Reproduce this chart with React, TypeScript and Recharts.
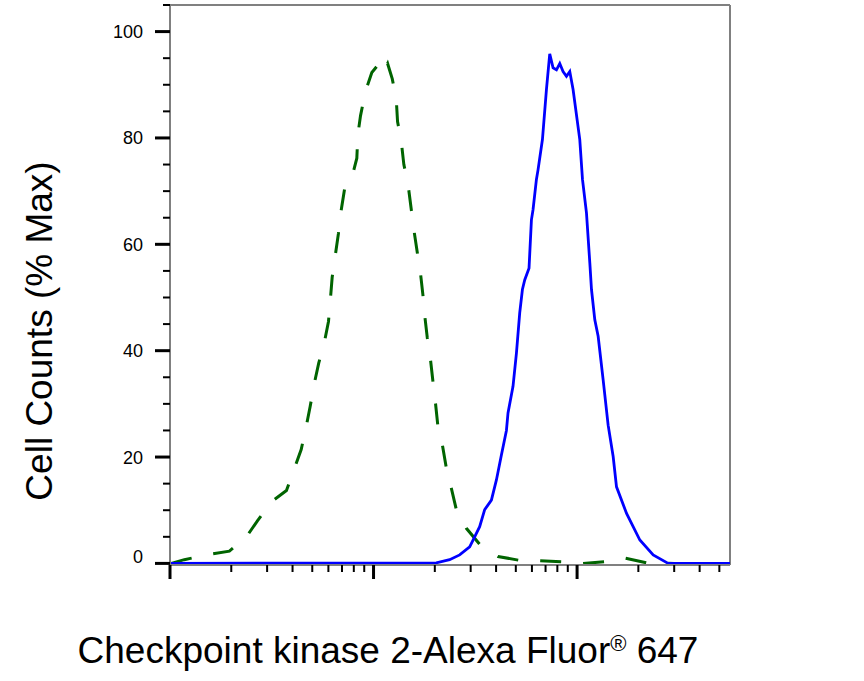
import React from 'react';
import { LineChart, Line, XAxis, YAxis, ReferenceLine, Label } from 'recharts';

// Isotype control (green dashed) — fluorescence intensity vs % max
const greenX = [1.015, 1.176, 1.561, 1.958, 2.373, 2.688, 3.149, 3.733, 4.088, 4.411, 4.667, 4.882, 5.127, 5.382, 5.741, 6.007, 6.144, 6.263, 6.502, 6.726, 6.935, 7.2, 7.822, 8.278, 8.372, 8.632, 9.103, 9.809, 10.7, 11.2, 11.72, 12.36, 12.93, 13.12, 13.68, 14.09, 14.75, 15.33, 15.73, 16.41, 16.97, 17.48, 17.82, 18.37, 19.01, 19.58, 20.12, 20.72, 21.78, 22.79, 24.12, 25.52, 28.58, 33.87, 40.87, 51.67, 65.55, 85.05, 106.7, 136.8, 171.6, 219.5, 255.2, 300];
const greenY = [0, 0.7, 1.7, 2.3, 5.0, 8.0, 11.6, 13.7, 17.9, 21.4, 25.7, 29.5, 34.0, 37.7, 41.7, 45.5, 49.9, 53.8, 58.2, 62.1, 66.4, 70.3, 72.5, 76.2, 80.6, 84.2, 88.6, 92.3, 94.1, 92.6, 94.0, 91.1, 87.3, 83.1, 79.4, 75.0, 71.5, 66.5, 63.1, 58.4, 54.9, 50.5, 46.8, 42.4, 38.6, 34.2, 30.4, 25.7, 22.3, 17.9, 14.1, 10.1, 6.6, 3.2, 1.3, 0.6, 0.5, 0.3, 0, 0.3, 1.0, 0.1, 0.1, 0];

// Checkpoint kinase 2 stained (blue solid)
const blueX = [1, 20.34, 23.65, 26.49, 29.67, 31.39, 33.22, 35.16, 37.94, 40.15, 42.48, 44.96, 45.78, 48.44, 50.34, 52.26, 53.88, 55.3, 58.06, 59.66, 60.75, 63.13, 64.29, 67.57, 70.7, 73.39, 76.21, 79.2, 82.21, 85.34, 88.69, 92.07, 95.57, 103.1, 106.3, 111.2, 115.5, 117.7, 122.2, 126.9, 134.3, 142.1, 150.4, 156.2, 175.0, 203.4, 236.5, 280.3, 564];
const blueY = [0, 0.1, 0.7, 1.6, 3.1, 5.0, 6.9, 10.1, 11.9, 15.7, 20.4, 25.0, 28.3, 33.3, 39.5, 47.1, 51.5, 53.3, 55.5, 64.6, 66.5, 72.2, 74.0, 79.7, 89.1, 95.8, 93.2, 92.8, 94.0, 92.5, 91.6, 92.5, 89.1, 79.7, 72.2, 65.9, 56.5, 51.5, 45.8, 42.7, 34.5, 26.0, 20.1, 14.4, 9.4, 4.4, 1.6, 0, 0];

const xTicks = [1, 2, 3, 4, 5, 6, 7, 8, 9, 10, 20, 30, 40, 50, 60, 70, 80, 90, 100, 200, 300, 400, 500];
const xMajor = [1, 10, 100];
const yTicks = [0, 5, 10, 15, 20, 25, 30, 35, 40, 45, 50, 55, 60, 65, 70, 75, 80, 85, 90, 95, 100, 105];

const xLabel = 'Checkpoint kinase 2-Alexa Fluor';
const xLabelSup = '®';
const xLabelEnd = ' 647';
const yLabel = 'Cell Counts (% Max)';

const greenData = greenX.map((x, i) => ({ x, y: greenY[i] }));
const blueData = blueX.map((x, i) => ({ x, y: blueY[i] }));

const FONT = '"Liberation Sans", Arial, Helvetica, sans-serif';

const XTick = (props: any) => {
  const { x, y, payload } = props;
  const major = xMajor.includes(payload.value);
  return (
    <line x1={x} x2={x} y1={y} y2={y + (major ? 14 : 7)} stroke="#000" strokeWidth={major ? 3 : 2} />
  );
};

const YTick = (props: any) => {
  const { x, y, payload } = props;
  const v = payload.value;
  const major = v % 20 === 0;
  return (
    <g>
      <line x1={x - (major ? 15 : 7)} x2={x} y1={y} y2={y} stroke="#000" strokeWidth={major ? 3 : 2} />
      {major && (
        <text x={x - 27} y={y + (v === 0 ? -6.6 : 0)} dy="0.36em" textAnchor="end" fontSize={18} fontFamily={FONT} fill="#000">
          {v}
        </text>
      )}
    </g>
  );
};

const XTitle = () => (
  <text x={388} y={663} textAnchor="middle" fontSize={37} fontFamily={FONT} fill="#000">
    {xLabel}
    <tspan fontSize={22} dy={-12}>{xLabelSup}</tspan>
    <tspan fontSize={37} dy={12}>{xLabelEnd}</tspan>
  </text>
);

const YTitle = () => (
  <text x={52} y={331} textAnchor="middle" fontSize={37} fontFamily={FONT} fill="#000" transform="rotate(-90, 52, 331)">
    {yLabel}
  </text>
);

export default function App() {
  return (
    <div style={{ position: 'absolute', left: 0, top: 0, width: 864, height: 681, background: '#fff' }}>
      <LineChart width={864} height={681} margin={{ top: 5, right: 134, bottom: 0, left: 0 }}>
        <XAxis
          dataKey="x"
          type="number"
          scale="log"
          domain={[1, 564]}
          allowDataOverflow
          ticks={xTicks}
          interval={0}
          tick={XTick}
          tickLine={false}
          tickSize={0}
          tickMargin={0}
          axisLine={{ stroke: '#808080', strokeWidth: 2 }}
          height={116}
        >
          <Label content={XTitle} />
        </XAxis>
        <YAxis
          type="number"
          domain={[-0.3, 105]}
          allowDataOverflow
          ticks={yTicks}
          interval={0}
          tick={YTick}
          tickLine={false}
          tickSize={0}
          tickMargin={0}
          axisLine={{ stroke: '#808080', strokeWidth: 2 }}
          width={170}
        >
          <Label content={YTitle} />
        </YAxis>
        <ReferenceLine y={105} stroke="#808080" strokeWidth={2} />
        <ReferenceLine x={564} stroke="#808080" strokeWidth={2} />
        <Line
          data={greenData}
          dataKey="y"
          type="linear"
          stroke="#006400"
          strokeWidth={3}
          strokeDasharray="21 22"
          dot={false}
          isAnimationActive={false}
        />
        <Line
          data={blueData}
          dataKey="y"
          type="linear"
          stroke="#0000ff"
          strokeWidth={2.8}
          dot={false}
          isAnimationActive={false}
        />
      </LineChart>
    </div>
  );
}
